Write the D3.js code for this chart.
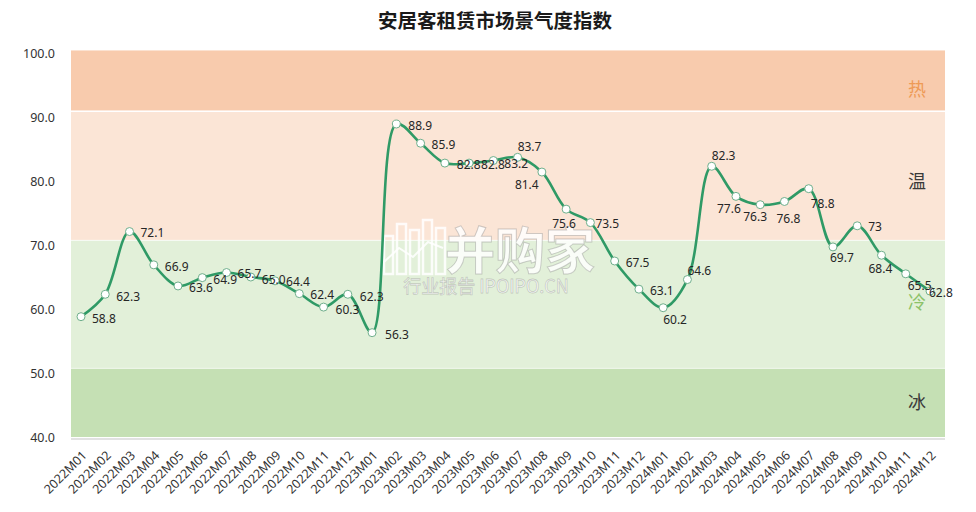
<!DOCTYPE html>
<html>
<head>
<meta charset="utf-8">
<script src="https://cdn.jsdelivr.net/npm/d3@7/dist/d3.min.js"></script>
<style>
  html, body { margin: 0; padding: 0; background: #fff; }
  svg { display: block; }
</style>
</head>
<body>
<svg id="chart" width="976" height="512"></svg>
<script>
// ---- data ----
const categories = [
  "2022M01","2022M02","2022M03","2022M04","2022M05","2022M06","2022M07","2022M08","2022M09","2022M10","2022M11","2022M12",
  "2023M01","2023M02","2023M03","2023M04","2023M05","2023M06","2023M07","2023M08","2023M09","2023M10","2023M11","2023M12",
  "2024M01","2024M02","2024M03","2024M04","2024M05","2024M06","2024M07","2024M08","2024M09","2024M10","2024M11","2024M12"
];
const values = [
  58.8, 62.3, 72.1, 66.9, 63.6, 64.9, 65.7, 65.0, 64.4, 62.4, 60.3, 62.3,
  56.3, 88.9, 85.9, 82.8, 82.8, 83.2, 83.7, 81.4, 75.6, 73.5, 67.5, 63.1,
  60.2, 64.6, 82.3, 77.6, 76.3, 76.8, 78.8, 69.7, 73, 68.4, 65.5, 62.8
];
const valueLabels = [
  "58.8","62.3","72.1","66.9","63.6","64.9","65.7","65.0","64.4","62.4","60.3","62.3",
  "56.3","88.9","85.9","82.8","82.8","83.2","83.7","81.4","75.6","73.5","67.5","63.1",
  "60.2","64.6","82.3","77.6","76.3","76.8","78.8","69.7","73","68.4","65.5","62.8"
];
const yTicks = [40, 50, 60, 70, 80, 90, 100];
const bandNames = ["冰", "冷", "温", "热"];
const bandLow   = [40, 50.8, 70.8, 90.9];
const bandHigh  = [50.8, 70.8, 90.9, 100.4];
const title = "安居客租赁市场景气度指数";

// ---- layout / style (not data) ----
const bandColors = ["#C5E0B4", "#E2F0D9", "#FBE5D6", "#F8CBAD"];
const bandLabelColors = ["#3a3a3a", "#8CC26A", "#3a3a3a", "#EE9A55"];
const bandLabelAt = [45.6, 61.3, 80.2, 94.6];
// per-point label offsets [dx, dy] relative to point (text left edge, vertical centre)
const labelOffsets = [
  [11,2],[11,2],[11,1],[11,2],[11,2],[11,2],[11,1],[11,2],[11,1],[11,1],[12,2],[12,2],
  [13,2],[12,1],[11,1],[12,1],[12,1],[11,3],[0,-11],[-27,12],[-14,14],[5,1],[11,1],[11,1],
  [0,12],[0,-9],[0,-11],[-19,12],[-17,12],[-8,17],[2,15],[-3,11],[11,1],[-13,13],[2,12],[-1,1]
];

const svg = d3.select("#chart");
const numFont = "'Noto Sans', 'Open Sans', sans-serif";
const cjkFont = "'Noto Sans CJK SC', sans-serif";

const plotLeft = 71, plotRight = 945;
const y = d3.scaleLinear().domain([40, 100]).range([437, 53]);
const x = d3.scalePoint().domain(categories).range([81, 930]);

// title
svg.append("text")
  .attr("x", 495).attr("y", 19)
  .attr("text-anchor", "middle").attr("dominant-baseline", "central")
  .style("font-family", cjkFont).style("font-weight", "bold")
  .style("font-size", "19.5px").style("fill", "#1a1a1a")
  .text(title);

// bands
const bands = bandNames.map((n, i) => ({ name: n, lo: bandLow[i], hi: bandHigh[i], i }));
svg.append("line")
  .attr("x1", plotLeft).attr("x2", plotRight)
  .attr("y1", y(40) + 2).attr("y2", y(40) + 2)
  .style("stroke", "#e2e2e2").style("stroke-width", 2);
svg.selectAll("rect.band").data(bands).enter().append("rect")
  .attr("class", "band")
  .attr("x", plotLeft).attr("width", plotRight - plotLeft)
  .attr("y", d => y(d.hi) + (d.i === 3 ? 0 : 0.8))
  .attr("height", d => y(d.lo) - y(d.hi) - 0.8)
  .style("fill", d => bandColors[d.i]);

svg.selectAll("text.bandlabel").data(bands).enter().append("text")
  .attr("class", "bandlabel")
  .attr("x", 917).attr("y", d => y(bandLabelAt[d.i]))
  .attr("text-anchor", "middle").attr("dominant-baseline", "central")
  .style("font-family", cjkFont).style("font-size", "18px")
  .style("fill", d => bandLabelColors[d.i])
  .text(d => d.name);

// y axis
const yAxis = d3.axisLeft(y).tickValues(yTicks).tickFormat(d3.format(".1f")).tickSize(0).tickPadding(0);
const gy = svg.append("g").attr("transform", "translate(55,0)").call(yAxis);
gy.select(".domain").remove();
gy.selectAll("text")
  .style("font-family", numFont).style("font-size", "12.5px").style("fill", "#333");

// x axis
const xAxis = d3.axisBottom(x).tickSize(0).tickPadding(0);
const gx = svg.append("g").attr("transform", "translate(0,453)").call(xAxis);
gx.select(".domain").remove();
gx.selectAll("text")
  .attr("text-anchor", "end")
  .attr("dy", "0.35em")
  .attr("transform", "translate(3,0) rotate(-45)")
  .style("font-family", numFont).style("font-size", "12.5px").style("fill", "#333");

// watermark
const wm = svg.append("g").style("pointer-events", "none");
const wmStroke = "rgba(120,120,120,0.35)";
[[384,236,9,38],[397,224,9,50],[410,230,9,44],[423,220,9,54],[436,228,9,46]].forEach(r => {
  wm.append("rect").attr("x", r[0]).attr("y", r[1]).attr("width", r[2]).attr("height", r[3])
    .style("fill", "none").style("stroke", "rgba(255,255,255,0.85)").style("stroke-width", 2.5);
});
wm.append("polyline").attr("points", "384,262 399,248 413,257 428,242 443,248")
  .style("fill", "none").style("stroke", "rgba(255,255,255,0.85)").style("stroke-width", 2);
wm.append("text").attr("x", 520).attr("y", 247)
  .attr("text-anchor", "middle").attr("dominant-baseline", "central")
  .style("font-family", cjkFont).style("font-size", "50px").style("font-weight", "bold")
  .style("fill", "rgba(255,255,255,0.82)").style("stroke", wmStroke).style("stroke-width", 1)
  .text("并购家");
wm.append("text").attr("x", 486).attr("y", 285)
  .attr("text-anchor", "middle").attr("dominant-baseline", "central")
  .style("font-family", cjkFont).style("font-size", "18px")
  .style("fill", "rgba(255,255,255,0.82)").style("stroke", wmStroke).style("stroke-width", 0.8)
  .text("行业报告 IPOIPO.CN");

// line
const pts = categories.map((c, i) => ({ c, v: values[i], i }));
const line = d3.line().x(d => x(d.c)).y(d => y(d.v)).curve(d3.curveCatmullRom.alpha(0.5));
svg.append("path").datum(pts)
  .attr("d", line)
  .style("fill", "none").style("stroke", "#2F9A66").style("stroke-width", 2.6)
  .style("stroke-linejoin", "round");

// markers
svg.selectAll("circle.pt").data(pts).enter().append("circle")
  .attr("class", "pt")
  .attr("cx", d => x(d.c)).attr("cy", d => y(d.v)).attr("r", 4)
  .style("fill", "#fff").style("stroke", "#6FAF8C").style("stroke-width", 1);

// data labels
svg.selectAll("text.vl").data(pts).enter().append("text")
  .attr("class", "vl")
  .attr("x", d => x(d.c) + labelOffsets[d.i][0])
  .attr("y", d => y(d.v) + labelOffsets[d.i][1])
  .attr("dominant-baseline", "central")
  .style("font-family", numFont).style("font-size", "12px").style("fill", "#262626")
  .text(d => valueLabels[d.i]);
</script>
</body>
</html>
